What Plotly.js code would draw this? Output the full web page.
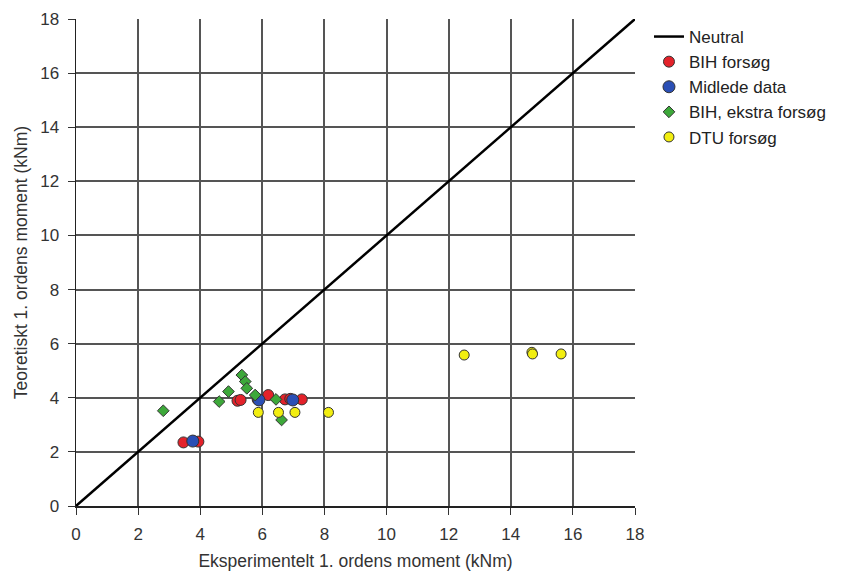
<!DOCTYPE html>
<html><head><meta charset="utf-8">
<script src="https://cdn.plot.ly/plotly-3.0.1.min.js"></script>
<style>html,body{margin:0;padding:0;background:#fff}#c{width:844px;height:574px}</style>
</head><body><div id="c"></div>
<script>
const neutralX = [0, 18];
const neutralY = [0, 18];
const bihX = [3.46, 3.94, 5.2, 5.3, 5.85, 6.19, 6.73, 7.27, 6.9];
const bihY = [2.35, 2.38, 3.89, 3.92, 3.94, 4.10, 3.94, 3.94, 3.96];
const midX = [3.76, 5.89, 6.98];
const midY = [2.40, 3.92, 3.92];
const ekstraX = [2.81, 4.61, 4.91, 5.34, 5.45, 5.5, 5.77, 6.44, 6.62];
const ekstraY = [3.52, 3.86, 4.23, 4.84, 4.6, 4.35, 4.10, 3.94, 3.18];
const dtuX = [5.87, 6.52, 7.05, 8.13, 12.5, 14.68, 14.7, 15.62];
const dtuY = [3.46, 3.46, 3.46, 3.46, 5.58, 5.68, 5.62, 5.62];
const ticks = [0,2,4,6,8,10,12,14,16,18];

const FONT = 'Liberation Sans, Arial, sans-serif';
const line = {color:'#333', width:1};
const traces = [
 {x:neutralX, y:neutralY, mode:'lines', name:'Neutral', line:{color:'#000', width:2.5}},
 {x:bihX, y:bihY, mode:'markers', name:'BIH forsøg', marker:{symbol:'circle', size:11, color:'#e3222a', line:line}},
 {x:midX, y:midY, mode:'markers', name:'Midlede data', marker:{symbol:'circle', size:12, color:'#2b4fb5', line:line}},
 {x:ekstraX, y:ekstraY, mode:'markers', name:'BIH, ekstra forsøg', marker:{symbol:'diamond', size:9, color:'#3da83a', line:line}},
 {x:dtuX, y:dtuY, mode:'markers', name:'DTU forsøg', marker:{symbol:'circle', size:10, color:'#f2ee10', line:line}}
];
const axisCommon = {
 range:[0,18], tickvals:ticks, ticktext:ticks.map(String), showgrid:true, gridcolor:'#555', gridwidth:2,
 showline:true, linecolor:'#222', linewidth:1.5, ticks:'outside', ticklen:7, tickcolor:'#333', zeroline:false,
 tickfont:{family:FONT, size:17, color:'#333'}, fixedrange:true, ticklabelstandoff:5
};
const layout = {
 width:844, height:574, margin:{l:76, r:209, t:19, b:68, autoexpand:false}, paper_bgcolor:'#fff', plot_bgcolor:'#fff',
 showlegend:true,
 legend:{x:1.025, xanchor:'left', y:1.0, yanchor:'top', font:{family:FONT, size:17, color:'#222'}, tracegroupgap:0, itemwidth:30, bgcolor:'rgba(0,0,0,0)'},
 xaxis:Object.assign({}, axisCommon, {title:{text:'Eksperimentelt 1. ordens moment (kNm)', font:{family:FONT, size:17.5, color:'#333'}, standoff:12}}),
 yaxis:Object.assign({}, axisCommon, {title:{text:'Teoretiskt 1. ordens moment (kNm)', font:{family:FONT, size:17.5, color:'#333'}, standoff:8}})
};
Plotly.newPlot('c', traces, layout, {displayModeBar:false, staticPlot:true});
</script></body></html>
